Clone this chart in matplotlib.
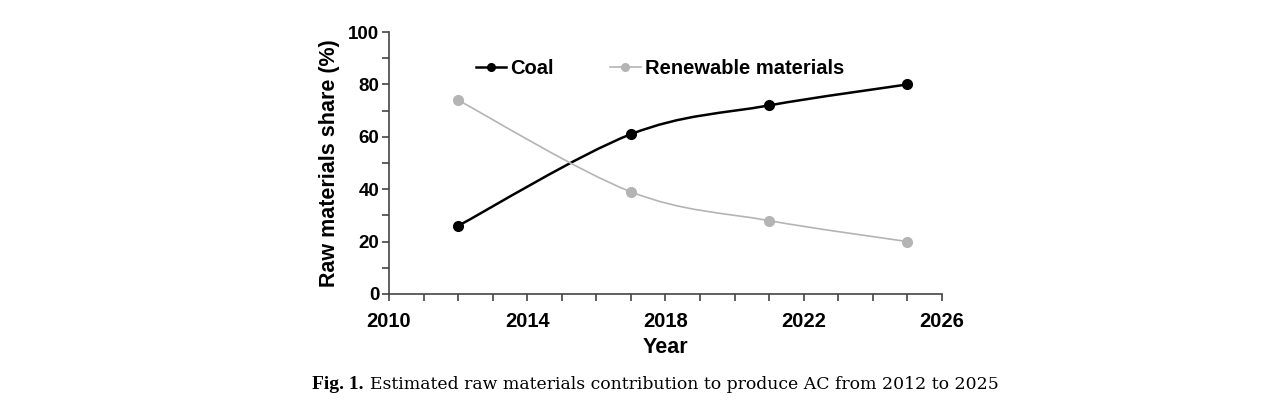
import numpy as np
import matplotlib
matplotlib.use("Agg")
import matplotlib.pyplot as plt
from matplotlib.path import Path
from matplotlib.patches import PathPatch
from matplotlib.lines import Line2D
from matplotlib.ticker import MultipleLocator

# Data
years = [2012, 2017, 2021, 2025]
coal = [26, 61, 72, 80]
renewable = [74, 39, 28, 20]
xticks = [2010, 2014, 2018, 2022, 2026]
caption = 'Estimated raw materials contribution to produce AC from 2012 to 2025'

plt.rcParams['font.family'] = ['Liberation Sans', 'DejaVu Sans']


def smooth_path(x, y):
    # Excel-like smoothed line: cubic Bezier segments through the points
    pts = np.column_stack([x, y]).astype(float)
    n = len(pts)
    verts = [pts[0]]
    codes = [Path.MOVETO]
    for i in range(n - 1):
        p0 = pts[i - 1] if i > 0 else pts[i]
        p1 = pts[i]
        p2 = pts[i + 1]
        p3 = pts[i + 2] if i + 2 < n else pts[i + 1]
        c1 = p1 + (p2 - p0) / 6.0
        c2 = p2 - (p3 - p1) / 6.0
        verts += [c1, c2, p2]
        codes += [Path.CURVE4] * 3
    return Path(verts, codes)


fig = plt.figure(figsize=(12.67, 4.03), dpi=100)
ax = fig.add_axes([0.307, 0.2705, 0.4365, 0.65])

series = [
    (coal, 'black', 1.8, 'Coal'),
    (renewable, '#b4b4b4', 1.2, 'Renewable materials'),
]
handles = []
for vals, col, lw, lab in series:
    ax.add_patch(PathPatch(smooth_path(years, vals), facecolor='none',
                           edgecolor=col, lw=lw, zorder=2))
    ax.plot(years, vals, 'o', color=col, ms=7, zorder=3)
    handles.append(Line2D([], [], color=col, lw=lw, marker='o', ms=5.5, label=lab))

ax.set_xlim(2010, 2026)
ax.set_ylim(0, 100)
ax.set_xticks(xticks)
ax.xaxis.set_minor_locator(MultipleLocator(1))
ax.yaxis.set_major_locator(MultipleLocator(20))
ax.yaxis.set_minor_locator(MultipleLocator(10))

for s in ['top', 'right']:
    ax.spines[s].set_visible(False)
for s in ['left', 'bottom']:
    ax.spines[s].set_color('#444444')
    ax.spines[s].set_linewidth(1.2)
ax.tick_params(which='both', direction='out', color='#444444', width=1.2)
ax.tick_params(which='major', length=5)
ax.tick_params(which='minor', length=5)
ax.tick_params(axis='x', labelsize=14.5, pad=8)
ax.tick_params(axis='y', labelsize=13.5, pad=2)
for t in ax.get_xticklabels() + ax.get_yticklabels():
    t.set_fontweight('bold')

ax.set_xlabel('Year', fontsize=15.5, fontweight='bold', labelpad=4)
ax.set_ylabel('Raw materials share (%)', fontsize=15.5, fontweight='bold', labelpad=6)

ax.legend(handles=handles, ncol=2, frameon=False,
          loc='center left', bbox_to_anchor=(0.125, 0.86),
          handlelength=1.5, handletextpad=0.2, columnspacing=2.8,
          prop={'weight': 'bold', 'size': 14.5})

fig.text(0.246, 0.045, 'Fig. 1.', fontsize=14, family='Liberation Serif',
         fontweight='bold', ha='left', va='center')
fig.text(0.292, 0.045, caption,
         fontsize=12.4, family='DejaVu Serif', ha='left', va='center')

fig.savefig('out.png', dpi=100)
